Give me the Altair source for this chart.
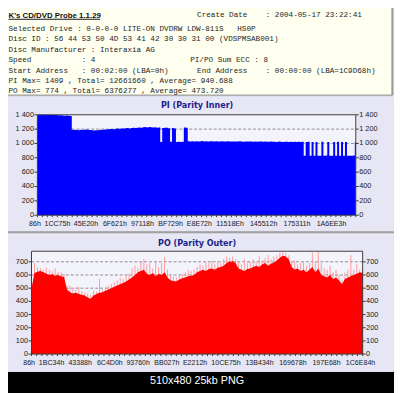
import altair as alt
import pandas as pd

LBA_MAX = 0x1C9D68

title_text = "K's CD/DVD Probe 1.1.29"
hdr_left = [
    "Selected Drive : 0-0-0-0 LITE-ON DVDRW LDW-811S   HS0P",
    "Disc ID : 56 44 53 50 4D 53 41 42 30 30 31 00 (VDSPMSAB001)",
    "Disc Manufacturer : Interaxia AG",
    "Speed           : 4",
    "Start Address   : 00:02:00 (LBA=0h)",
    "PI Max= 1409 , Total= 12661660 , Average= 940.688",
    "PO Max= 774 , Total= 6376277 , Average= 473.720",
]
hdr_right = [
    "Create Date    : 2004-05-17 23:22:41",
    "PI/PO Sum ECC : 8",
    "End Address    : 00:00:00 (LBA=1C9D68h)",
]
pi_title = "PI (Parity Inner)"
po_title = "PO (Parity Outer)"
caption = "510x480 25kb PNG"

pi_values = [
    1400, 1400, 1400, 1398, 1400, 1399, 1400, 1397, 1398, 1396, 1398, 1395, 1392, 1390, 1388, 1391, 1386, 1384,
    1192, 1188, 1190, 1186, 1192, 1189, 1191, 1194, 1190, 1187,
    1185, 1182, 1186, 1184, 1190, 1188, 1193, 1195, 1198,
    1200, 1203, 1199, 1205, 1208, 1204, 1210, 1207, 1212,
    1214, 1210, 1216, 1218, 1215, 1220, 1222, 1219, 1225,
    1228, 1224, 1230, 1226, 1222, 1225, 1218, 1222,
    1020, 1215, 1220, 1218, 1212, 1025, 1215, 1210, 1022, 1025, 1020, 1024, 1222, 1218,
    1030, 1028, 1032, 1029, 1031, 1027, 1030, 1033, 1029, 1031, 1028, 1030, 1032, 1029,
    1030, 1027, 1029, 1031, 1028, 1026, 1030, 1028, 1027, 1029, 1026, 1028, 1030, 1027, 1025,
    1028, 1026, 1029, 1027, 1024, 1027, 1025, 1028, 1026, 1024, 1027, 1025, 1023, 1026, 1024,
    1025, 1022, 1026, 1024, 1021, 1025, 1023, 1020, 1024, 1022, 1025, 1021, 1023, 1020, 1024,
    830, 1022, 1024, 830, 1020, 830, 1022, 830, 830, 1024, 830, 832, 1020, 830, 828, 1022,
    830, 1024, 830, 1020, 830, 1022, 830, 828, 830, 832, 1020,
]

po_base = [
    500, 615, 625, 630, 620,
    610, 600, 605, 595, 600, 590,
    585, 490,
    470, 460, 465, 455, 450, 445,
    430, 420,
    445, 455, 465, 470,
    480, 490, 500, 510, 520,
    530, 540, 550, 565,
    580, 600, 620,
    630, 640,
    610, 600, 615, 590, 610, 600, 620,
    580, 560, 555, 550, 565,
    575, 580, 590, 595, 600,
    620, 630, 640, 630, 645, 650, 640, 655, 660,
    670, 690, 700, 705, 690,
    650, 640, 630, 645,
    650, 660, 670, 660, 680, 690, 670, 685, 695,
    710, 730, 745, 740, 720,
    660, 640, 650, 630, 640, 620,
    640, 660, 620, 650, 600,
    590, 580, 600, 570, 580, 560, 530,
    570, 580, 590, 600,
    610, 620, 615,
]
po_peak = [
    620, 690, 660, 650, 640,
    655, 640, 630, 650, 625, 620,
    610, 520,
    520, 500, 490, 510, 480, 470,
    460, 450,
    480, 475, 570, 490,
    510, 520, 530, 545, 560,
    580, 570, 600, 610,
    650, 670, 650,
    700, 720,
    680, 690, 650, 700, 660, 690, 735,
    640, 600, 590, 580, 600,
    610, 620, 640, 630, 640,
    660, 680, 670, 700, 690, 710, 680, 700, 690,
    720, 740, 730, 740, 720,
    700, 680, 720, 690,
    700, 720, 700, 740, 710, 730, 750, 720, 740,
    750, 770, 774, 765, 750,
    700, 710, 680, 690, 700, 670,
    690, 770, 700, 774, 690,
    650, 640, 670, 620, 640, 600, 560,
    620, 640, 750, 640,
    680, 640, 630,
]

pi_yticks = [0, 200, 400, 600, 800, 1000, 1200, 1400]
pi_ylabels = ["0", "200", "400", "600", "800", "1 000", "1 200", "1 400"]
po_yticks = [0, 100, 200, 300, 400, 500, 600, 700]
po_ylabels = ["0", "100", "200", "300", "400", "500", "600", "700"]
pi_xlabels = ["86h", "1CC75h", "45E20h", "6F621h", "97118h", "BF729h", "E8E72h",
              "11518Eh", "145512h", "175311h", "1A6EE3h"]
po_xlabels = ["86h", "1BC34h", "43388h", "6C4D0h", "93760h", "BB027h", "E2212h",
              "10CE75h", "13B434h", "169678h", "197E68h", "1C6E84h"]

# ---------------- geometry (pixels inside the chart) ----------------
W, H = 394, 385
PI_L, PI_R, PI_T, PI_B = 30, 355, 105, 207.5
PO_L, PO_R, PO_T, PO_B = 24, 362, 244.3, 349.3
PANEL = "#E6E6F4"
PLOTBG = "#F3F3FC"
AX_FONT = "Liberation Sans"
NB = "\u00a0"


def keep_spaces(s):
    return s.replace(" ", NB)


def sx(l, r):
    return alt.Scale(domain=[0, LBA_MAX], range=[l, r], nice=False, zero=False)


def sy_pi():
    return alt.Scale(domain=[0, 1400], range=[PI_B, PI_T], nice=False, zero=False)


def sy_po():
    return alt.Scale(domain=[0, 780], range=[PO_B, PO_T], nice=False, zero=False)


n_pi = len(pi_values)
pi_df = pd.DataFrame({"lba": [i * LBA_MAX / (n_pi - 1) for i in range(n_pi)], "v": pi_values})
n_po = len(po_base)
po_df = pd.DataFrame({"lba": [i * LBA_MAX / (n_po - 1) for i in range(n_po)],
                      "base": po_base, "peak": po_peak})

one = pd.DataFrame({"k": [0]})
layers = []

# panels
layout = pd.DataFrame([
    dict(x=-8, x2=W, y=-8, y2=86, fill="#C8C8D0", stroke="#C8C8D0"),
    dict(x=-8, x2=392, y=-8, y2=85, fill="#FFFFF0", stroke="#6E6E6E"),
    dict(x=-8, x2=W - 0.5, y=86, y2=224.5, fill=PANEL, stroke=PANEL),
    dict(x=-8, x2=W - 0.5, y=224.5, y2=226.5, fill="#A0A0A0", stroke="#A0A0A0"),
    dict(x=-8, x2=W - 0.5, y=226.5, y2=367, fill=PANEL, stroke=PANEL),
    dict(x=PI_L, x2=PI_R, y=PI_T, y2=PI_B, fill=PLOTBG, stroke=PLOTBG),
    dict(x=PO_L, x2=PO_R, y=PO_T, y2=PO_B, fill=PLOTBG, stroke=PLOTBG),
])
layers.append(alt.Chart(layout).mark_rect(strokeWidth=1).encode(
    x=alt.X("x:Q", scale=None), x2="x2:Q",
    y=alt.Y("y:Q", scale=None), y2="y2:Q",
    fill=alt.Fill("fill:N", scale=None), stroke=alt.Stroke("stroke:N", scale=None)))

# header texts
hdr_rows = [dict(x=0.5, y=y, t=keep_spaces(t))
            for t, y in zip(hdr_left, [17, 28, 38.7, 49.3, 60.3, 71, 80.7])]
hdr_rows += [dict(x=193, y=3.5, t=keep_spaces(hdr_right[0])),
             dict(x=186, y=49.3, t=keep_spaces(hdr_right[1])),
             dict(x=193, y=60.3, t=keep_spaces(hdr_right[2]))]
layers.append(alt.Chart(pd.DataFrame(hdr_rows)).mark_text(
    font="Liberation Mono", fontSize=7.8, align="left", baseline="middle", color="#1E1E1E").encode(
    x=alt.X("x:Q", scale=None), y=alt.Y("y:Q", scale=None), text="t:N"))
layers.append(alt.Chart(pd.DataFrame({"t": [title_text]})).mark_text(
    font="Liberation Sans", fontSize=8, fontWeight="bold", align="left", baseline="alphabetic",
    color="#101010").encode(x=alt.value(0.5), y=alt.value(6.2), text="t:N"))
layers.append(alt.Chart(one).mark_rule(color="#101010", strokeWidth=1).encode(
    x=alt.value(0.5), x2=alt.value(94), y=alt.value(7.5)))

# panel titles
layers.append(alt.Chart(pd.DataFrame({"t": [pi_title, po_title], "y": [96.5, 236.5]})).mark_text(
    font="DejaVu Sans", fontSize=8.2, fontWeight="bold", align="center", baseline="middle",
    color="#1E1E8C").encode(x=alt.value(193), y=alt.Y("y:Q", scale=None), text="t:N"))

# caption
layers.append(alt.Chart(pd.DataFrame({"t": [caption]})).mark_text(
    font="Liberation Sans", fontSize=11, align="center", baseline="middle", color="#FFFFFF").encode(
    x=alt.value(193), y=alt.value(376.5), text="t:N"))


def plot_layers(ticks, labels, xlabels, l, r, t, b, ysc, top_val, data_layers):
    out = []
    grid = pd.DataFrame({"v": [v for v in ticks if 0 < v < top_val]})
    out.append(alt.Chart(grid).mark_rule(color="#8C8C8C", strokeDash=[3, 2], strokeWidth=1).encode(
        y=alt.Y("v:Q", scale=ysc, axis=None), x=alt.value(l), x2=alt.value(r)))
    out += data_layers
    out.append(alt.Chart(one).mark_rect(fillOpacity=0, stroke="#3A3A3A", strokeWidth=1).encode(
        x=alt.value(l), x2=alt.value(r), y=alt.value(t), y2=alt.value(b)))
    tick_df = pd.DataFrame({"v": ticks, "lab": [keep_spaces(s) for s in labels]})
    for x1, x2 in [(l - 3, l), (r, r + 3)]:
        out.append(alt.Chart(tick_df).mark_rule(color="#3A3A3A", strokeWidth=1).encode(
            y=alt.Y("v:Q", scale=ysc, axis=None), x=alt.value(x1), x2=alt.value(x2)))
    out.append(alt.Chart(tick_df).mark_text(font=AX_FONT, fontSize=7.5, align="right",
                                            baseline="middle", color="#202020").encode(
        y=alt.Y("v:Q", scale=ysc, axis=None), x=alt.value(l - 3.5), text="lab:N"))
    out.append(alt.Chart(tick_df).mark_text(font=AX_FONT, fontSize=7.5, align="left",
                                            baseline="middle", color="#202020").encode(
        y=alt.Y("v:Q", scale=ysc, axis=None), x=alt.value(r + 3.5), text="lab:N"))
    minor = pd.DataFrame({"lba": [k * LBA_MAX / 64 for k in range(65)]})
    out.append(alt.Chart(minor).mark_rule(color="#3A3A3A", strokeWidth=1).encode(
        x=alt.X("lba:Q", scale=sx(l, r), axis=None), y=alt.value(b), y2=alt.value(b + 2)))
    xl = pd.DataFrame({"lab": xlabels, "lba": [int(s[:-1], 16) for s in xlabels]})
    # first label sits slightly left of the plot edge, the rest centred on their tick
    out.append(alt.Chart(xl.iloc[:1]).mark_text(font=AX_FONT, fontSize=7.2, align="center",
                                                baseline="middle", color="#202020", dx=-2.5).encode(
        x=alt.X("lba:Q", scale=sx(l, r), axis=None), y=alt.value(b + 9.5), text="lab:N"))
    out.append(alt.Chart(xl.iloc[1:]).mark_text(font=AX_FONT, fontSize=7.2, align="center",
                                                baseline="middle", color="#202020").encode(
        x=alt.X("lba:Q", scale=sx(l, r), axis=None), y=alt.value(b + 9.5), text="lab:N"))
    return out


pi_area = alt.Chart(pi_df).mark_area(color="#0000FF", interpolate="step").encode(
    x=alt.X("lba:Q", scale=sx(PI_L, PI_R), axis=None),
    y=alt.Y("v:Q", scale=sy_pi(), axis=None))
layers += plot_layers(pi_yticks, pi_ylabels, pi_xlabels, PI_L, PI_R, PI_T, PI_B, sy_pi(), 1400,
                      [pi_area])

po_spikes = alt.Chart(po_df).mark_rule(color="#FF9A9A", strokeWidth=1).encode(
    x=alt.X("lba:Q", scale=sx(PO_L, PO_R), axis=None),
    y=alt.Y("peak:Q", scale=sy_po(), axis=None), y2=alt.datum(0))
po_area = alt.Chart(po_df).mark_area(color="#FF0000", interpolate="linear").encode(
    x=alt.X("lba:Q", scale=sx(PO_L, PO_R), axis=None),
    y=alt.Y("base:Q", scale=sy_po(), axis=None))
layers += plot_layers(po_yticks, po_ylabels, po_xlabels, PO_L, PO_R, PO_T, PO_B, sy_po(), 780,
                      [po_spikes, po_area])

chart = alt.layer(*layers).resolve_scale(x="independent", y="independent").properties(
    width=W, height=H, padding=0, autosize=alt.AutoSizeParams(type="none"),
    background="#000000").configure_view(strokeWidth=0)

chart.save("out.html", embed_options={"renderer": "svg", "actions": False})
